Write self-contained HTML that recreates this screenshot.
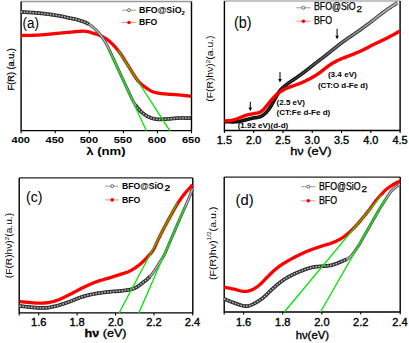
<!DOCTYPE html>
<html><head><meta charset="utf-8"><style>
html,body{margin:0;padding:0;background:#fff;width:409px;height:343px;overflow:hidden}
svg{display:block}
text{font-family:"Liberation Sans", sans-serif;fill:#000}
.m{stroke:#000;stroke-width:0.35px}
.h{stroke:#000;stroke-width:0.25px}
</style></head><body>
<svg width="409" height="343" viewBox="0 0 409 343">
<defs>
<linearGradient id="gbo" gradientUnits="userSpaceOnUse" x1="224" y1="0" x2="400" y2="0"><stop offset="0" stop-color="#000"/><stop offset="0.45" stop-color="#111"/><stop offset="1" stop-color="#555"/></linearGradient>
<linearGradient id="gbi" gradientUnits="userSpaceOnUse" x1="224" y1="0" x2="400" y2="0"><stop offset="0" stop-color="#111"/><stop offset="0.4" stop-color="#333"/><stop offset="0.7" stop-color="#888"/><stop offset="1" stop-color="#c8c8c8"/></linearGradient>
<linearGradient id="gco" gradientUnits="userSpaceOnUse" x1="140" y1="0" x2="192" y2="0"><stop offset="0" stop-color="#222"/><stop offset="1" stop-color="#555"/></linearGradient>
<linearGradient id="gci" gradientUnits="userSpaceOnUse" x1="140" y1="0" x2="192" y2="0"><stop offset="0" stop-color="#b0b0b0"/><stop offset="1" stop-color="#e8e8e8"/></linearGradient>
<linearGradient id="gdo" gradientUnits="userSpaceOnUse" x1="340" y1="0" x2="400" y2="0"><stop offset="0" stop-color="#222"/><stop offset="1" stop-color="#555"/></linearGradient>
<linearGradient id="gdi" gradientUnits="userSpaceOnUse" x1="340" y1="0" x2="400" y2="0"><stop offset="0" stop-color="#b0b0b0"/><stop offset="1" stop-color="#e8e8e8"/></linearGradient>
</defs>
<rect width="409" height="343" fill="#fff"/>
<path d="M21.10,1.50 H191.50" fill="none" stroke="#999" stroke-width="1.4"/>
<path d="M21.10,1.50 V130.60 H191.50 V1.50" fill="none" stroke="#000" stroke-width="1.4" stroke-linejoin="round"/>
<path d="M21.10,130.60 V133.20 M191.50,130.60 V133.20" stroke="#000" stroke-width="1.1"/>
<path d="M55.20,130.60 V133.20" stroke="#000" stroke-width="1.1"/>
<path d="M89.30,130.60 V133.20" stroke="#000" stroke-width="1.1"/>
<path d="M123.40,130.60 V133.20" stroke="#000" stroke-width="1.1"/>
<path d="M157.40,130.60 V133.20" stroke="#000" stroke-width="1.1"/>
<path d="M21.00,35.50 L22.00,35.48 L23.00,35.46 L24.00,35.45 L25.00,35.43 L26.00,35.41 L27.00,35.40 L28.00,35.38 L29.00,35.36 L30.00,35.34 L31.00,35.32 L32.00,35.29 L33.00,35.27 L34.00,35.24 L35.00,35.20 L36.00,35.17 L37.00,35.13 L37.99,35.08 L38.99,35.03 L39.99,34.97 L40.99,34.90 L41.99,34.83 L42.98,34.75 L43.98,34.67 L44.98,34.58 L45.97,34.49 L46.97,34.40 L47.96,34.31 L48.96,34.21 L49.95,34.11 L50.95,34.01 L51.94,33.91 L52.94,33.81 L53.93,33.71 L54.93,33.60 L55.92,33.50 L56.92,33.40 L57.91,33.31 L58.91,33.21 L59.90,33.12 L60.90,33.03 L61.90,32.93 L62.89,32.84 L63.89,32.75 L64.88,32.66 L65.88,32.57 L66.88,32.48 L67.87,32.39 L68.87,32.30 L69.86,32.21 L70.86,32.12 L71.86,32.03 L72.85,31.93 L73.85,31.84 L74.84,31.74 L75.84,31.65 L76.83,31.56 L77.83,31.47 L78.83,31.39 L79.82,31.32 L80.82,31.26 L81.82,31.22 L82.82,31.21 L83.82,31.22 L84.81,31.28 L85.81,31.38 L86.79,31.52 L87.77,31.70 L88.75,31.93 L89.71,32.18 L90.67,32.47 L91.63,32.76 L92.58,33.06 L93.54,33.35 L94.50,33.63 L95.46,33.91 L96.42,34.19 L97.37,34.49 L98.32,34.81 L99.25,35.16 L100.18,35.54 L101.09,35.95 L101.99,36.38 L102.88,36.83 L103.76,37.31 L104.62,37.81 L105.47,38.34 L106.30,38.90 L107.11,39.48 L107.91,40.08 L108.69,40.71 L109.45,41.35 L110.20,42.01 L110.95,42.68 L111.68,43.36 L112.39,44.06 L113.10,44.77 L113.79,45.49 L114.46,46.23 L115.13,46.97 L115.79,47.73 L116.43,48.49 L117.07,49.26 L117.70,50.03 L118.32,50.82 L118.94,51.61 L119.54,52.40 L120.14,53.21 L120.72,54.02 L121.29,54.84 L121.85,55.67 L122.39,56.51 L122.93,57.35 L123.45,58.20 L123.98,59.05 L124.50,59.90 L125.03,60.76 L125.56,61.60 L126.09,62.45 L126.62,63.30 L127.16,64.14 L127.70,64.99 L128.23,65.83 L128.77,66.67 L129.30,67.52 L129.84,68.36 L130.37,69.21 L130.89,70.06 L131.41,70.92 L131.93,71.77 L132.45,72.63 L132.98,73.48 L133.51,74.32 L134.04,75.17 L134.58,76.01 L135.12,76.85 L135.67,77.69 L136.23,78.51 L136.81,79.33 L137.41,80.12 L138.04,80.90 L138.70,81.65 L139.39,82.37 L140.11,83.06 L140.85,83.74 L141.61,84.39 L142.38,85.02 L143.17,85.64 L143.96,86.25 L144.76,86.85 L145.57,87.44 L146.38,88.02 L147.21,88.58 L148.04,89.14 L148.88,89.68 L149.74,90.19 L150.61,90.68 L151.50,91.13 L152.41,91.54 L153.33,91.91 L154.28,92.22 L155.24,92.50 L156.21,92.73 L157.19,92.93 L158.17,93.11 L159.16,93.28 L160.15,93.43 L161.14,93.56 L162.13,93.68 L163.12,93.79 L164.12,93.88 L165.11,93.97 L166.11,94.06 L167.11,94.14 L168.10,94.22 L169.10,94.29 L170.10,94.35 L171.10,94.40 L172.10,94.46 L173.10,94.51 L174.09,94.57 L175.09,94.63 L176.09,94.69 L177.09,94.77 L178.08,94.85 L179.08,94.93 L180.08,95.02 L181.07,95.12 L182.07,95.21 L183.06,95.31 L184.06,95.42 L185.05,95.53 L186.04,95.64 L187.04,95.76 L188.03,95.89 L189.02,96.03 L190.01,96.16 L191.00,96.30" fill="none" stroke="#ff0000" stroke-width="3.30" stroke-linejoin="round"/>
<path d="M21.00,12.00 L22.00,12.05 L23.00,12.11 L24.00,12.16 L25.00,12.21 L26.00,12.26 L27.01,12.32 L28.01,12.37 L29.01,12.42 L30.01,12.48 L31.01,12.54 L32.01,12.60 L33.01,12.66 L34.01,12.72 L35.01,12.79 L36.01,12.87 L37.01,12.94 L38.01,13.03 L39.00,13.11 L40.00,13.21 L41.00,13.31 L42.00,13.42 L42.99,13.53 L43.99,13.65 L44.98,13.77 L45.98,13.89 L46.97,14.02 L47.96,14.15 L48.96,14.28 L49.95,14.42 L50.94,14.56 L51.93,14.70 L52.93,14.85 L53.92,15.00 L54.91,15.15 L55.90,15.30 L56.89,15.46 L57.88,15.62 L58.87,15.79 L59.85,15.96 L60.84,16.14 L61.82,16.33 L62.80,16.54 L63.78,16.75 L64.76,16.97 L65.74,17.20 L66.71,17.43 L67.69,17.66 L68.66,17.89 L69.64,18.10 L70.62,18.31 L71.61,18.50 L72.59,18.68 L73.58,18.86 L74.56,19.06 L75.54,19.27 L76.51,19.51 L77.48,19.77 L78.44,20.05 L79.40,20.34 L80.35,20.65 L81.30,20.97 L82.25,21.29 L83.20,21.62 L84.14,21.96 L85.07,22.32 L85.99,22.72 L86.90,23.14 L87.78,23.61 L88.64,24.12 L89.49,24.65 L90.32,25.22 L91.13,25.80 L91.92,26.41 L92.71,27.03 L93.48,27.67 L94.24,28.33 L94.99,28.99 L95.72,29.67 L96.44,30.37 L97.15,31.08 L97.84,31.80 L98.51,32.55 L99.17,33.30 L99.80,34.08 L100.43,34.86 L101.03,35.66 L101.63,36.46 L102.21,37.28 L102.78,38.10 L103.35,38.93 L103.89,39.77 L104.43,40.62 L104.96,41.47 L105.46,42.33 L105.96,43.21 L106.43,44.09 L106.89,44.98 L107.34,45.87 L107.79,46.77 L108.22,47.67 L108.66,48.58 L109.09,49.48 L109.52,50.39 L109.95,51.29 L110.38,52.20 L110.80,53.11 L111.22,54.02 L111.63,54.93 L112.05,55.84 L112.46,56.75 L112.88,57.67 L113.30,58.58 L113.72,59.49 L114.14,60.40 L114.56,61.31 L114.98,62.22 L115.40,63.13 L115.82,64.03 L116.24,64.94 L116.66,65.85 L117.08,66.76 L117.50,67.67 L117.92,68.58 L118.35,69.49 L118.77,70.40 L119.19,71.31 L119.61,72.22 L120.03,73.13 L120.45,74.04 L120.87,74.95 L121.29,75.86 L121.71,76.77 L122.13,77.68 L122.55,78.59 L122.97,79.50 L123.39,80.41 L123.81,81.32 L124.23,82.23 L124.64,83.14 L125.06,84.05 L125.48,84.96 L125.90,85.88 L126.32,86.79 L126.74,87.69 L127.16,88.60 L127.59,89.51 L128.01,90.42 L128.44,91.33 L128.86,92.24 L129.28,93.15 L129.69,94.06 L130.11,94.97 L130.54,95.88 L130.96,96.78 L131.40,97.69 L131.83,98.59 L132.28,99.49 L132.74,100.38 L133.21,101.26 L133.71,102.13 L134.22,102.99 L134.74,103.85 L135.29,104.68 L135.86,105.51 L136.44,106.32 L137.05,107.12 L137.67,107.90 L138.31,108.67 L138.97,109.43 L139.64,110.17 L140.34,110.89 L141.05,111.60 L141.78,112.28 L142.54,112.94 L143.31,113.57 L144.11,114.17 L144.94,114.74 L145.78,115.28 L146.64,115.79 L147.52,116.27 L148.41,116.73 L149.31,117.15 L150.23,117.55 L151.16,117.92 L152.11,118.25 L153.07,118.53 L154.04,118.77 L155.02,118.97 L156.00,119.13 L157.00,119.26 L157.99,119.35 L158.99,119.40 L159.99,119.40 L160.99,119.36 L161.99,119.31 L162.99,119.25 L163.99,119.19 L164.99,119.13 L165.99,119.06 L166.99,119.00 L167.99,118.93 L168.99,118.85 L169.99,118.78 L170.99,118.69 L171.99,118.60 L172.98,118.51 L173.98,118.41 L174.98,118.32 L175.98,118.23 L176.98,118.15 L177.98,118.09 L178.98,118.04 L179.98,118.01 L180.98,117.99 L181.98,117.99 L182.98,118.00 L183.99,118.01 L184.99,118.03 L185.99,118.06 L186.99,118.08 L187.99,118.11 L189.00,118.14 L190.00,118.17 L191.00,118.20" fill="none" stroke="#555" stroke-width="3.0"/>
<path d="M21.00,12.00 L22.00,12.05 L23.00,12.11 L24.00,12.16 L25.00,12.21 L26.00,12.26 L27.01,12.32 L28.01,12.37 L29.01,12.42 L30.01,12.48 L31.01,12.54 L32.01,12.60 L33.01,12.66 L34.01,12.72 L35.01,12.79 L36.01,12.87 L37.01,12.94 L38.01,13.03 L39.00,13.11 L40.00,13.21 L41.00,13.31 L42.00,13.42 L42.99,13.53 L43.99,13.65 L44.98,13.77 L45.98,13.89 L46.97,14.02 L47.96,14.15 L48.96,14.28 L49.95,14.42 L50.94,14.56 L51.93,14.70 L52.93,14.85 L53.92,15.00 L54.91,15.15 L55.90,15.30 L56.89,15.46 L57.88,15.62 L58.87,15.79 L59.85,15.96 L60.84,16.14 L61.82,16.33 L62.80,16.54 L63.78,16.75 L64.76,16.97 L65.74,17.20 L66.71,17.43 L67.69,17.66 L68.66,17.89 L69.64,18.10 L70.62,18.31 L71.61,18.50 L72.59,18.68 L73.58,18.86 L74.56,19.06 L75.54,19.27 L76.51,19.51 L77.48,19.77 L78.44,20.05 L79.40,20.34 L80.35,20.65 L81.30,20.97 L82.25,21.29 L83.20,21.62 L84.14,21.96 L85.07,22.32 L85.99,22.72 L86.90,23.14 L87.78,23.61 L88.64,24.12 L89.49,24.65 L90.32,25.22 L91.13,25.80 L91.92,26.41 L92.71,27.03 L93.48,27.67 L94.24,28.33 L94.99,28.99 L95.72,29.67 L96.44,30.37 L97.15,31.08 L97.84,31.80 L98.51,32.55 L99.17,33.30 L99.80,34.08 L100.43,34.86 L101.03,35.66 L101.63,36.46 L102.21,37.28 L102.78,38.10 L103.35,38.93 L103.89,39.77 L104.43,40.62 L104.96,41.47 L105.46,42.33 L105.96,43.21 L106.43,44.09 L106.89,44.98 L107.34,45.87 L107.79,46.77 L108.22,47.67 L108.66,48.58 L109.09,49.48 L109.52,50.39 L109.95,51.29 L110.38,52.20 L110.80,53.11 L111.22,54.02 L111.63,54.93 L112.05,55.84 L112.46,56.75 L112.88,57.67 L113.30,58.58 L113.72,59.49 L114.14,60.40 L114.56,61.31 L114.98,62.22 L115.40,63.13 L115.82,64.03 L116.24,64.94 L116.66,65.85 L117.08,66.76 L117.50,67.67 L117.92,68.58 L118.35,69.49 L118.77,70.40 L119.19,71.31 L119.61,72.22 L120.03,73.13 L120.45,74.04 L120.87,74.95 L121.29,75.86 L121.71,76.77 L122.13,77.68 L122.55,78.59 L122.97,79.50 L123.39,80.41 L123.81,81.32 L124.23,82.23 L124.64,83.14 L125.06,84.05 L125.48,84.96 L125.90,85.88 L126.32,86.79 L126.74,87.69 L127.16,88.60 L127.59,89.51 L128.01,90.42 L128.44,91.33 L128.86,92.24 L129.28,93.15 L129.69,94.06 L130.11,94.97 L130.54,95.88 L130.96,96.78 L131.40,97.69 L131.83,98.59 L132.28,99.49 L132.74,100.38 L133.21,101.26 L133.71,102.13 L134.22,102.99 L134.74,103.85 L135.29,104.68 L135.86,105.51 L136.44,106.32 L137.05,107.12 L137.67,107.90 L138.31,108.67 L138.97,109.43 L139.64,110.17 L140.34,110.89 L141.05,111.60 L141.78,112.28 L142.54,112.94 L143.31,113.57 L144.11,114.17 L144.94,114.74 L145.78,115.28 L146.64,115.79 L147.52,116.27 L148.41,116.73 L149.31,117.15 L150.23,117.55 L151.16,117.92 L152.11,118.25 L153.07,118.53 L154.04,118.77 L155.02,118.97 L156.00,119.13 L157.00,119.26 L157.99,119.35 L158.99,119.40 L159.99,119.40 L160.99,119.36 L161.99,119.31 L162.99,119.25 L163.99,119.19 L164.99,119.13 L165.99,119.06 L166.99,119.00 L167.99,118.93 L168.99,118.85 L169.99,118.78 L170.99,118.69 L171.99,118.60 L172.98,118.51 L173.98,118.41 L174.98,118.32 L175.98,118.23 L176.98,118.15 L177.98,118.09 L178.98,118.04 L179.98,118.01 L180.98,117.99 L181.98,117.99 L182.98,118.00 L183.99,118.01 L184.99,118.03 L185.99,118.06 L186.99,118.08 L187.99,118.11 L189.00,118.14 L190.00,118.17 L191.00,118.20" fill="none" stroke="#c4c4c4" stroke-width="1.1"/>
<path d="M21.00,12.00 L22.00,12.05 L23.00,12.11 L24.00,12.16 L25.00,12.21 L26.00,12.26 L27.01,12.32 L28.01,12.37 L29.01,12.42 L30.01,12.48 L31.01,12.54 L32.01,12.60 L33.01,12.66 L34.01,12.72 L35.01,12.79 L36.01,12.87 L37.01,12.94 L38.01,13.03 L39.00,13.11 L40.00,13.21 L41.00,13.31 L42.00,13.42 L42.99,13.53 L43.99,13.65 L44.98,13.77 L45.98,13.89 L46.97,14.02 L47.96,14.15 L48.96,14.28 L49.95,14.42 L50.94,14.56 L51.93,14.70 L52.93,14.85 L53.92,15.00 L54.91,15.15 L55.90,15.30 L56.89,15.46 L57.88,15.62 L58.87,15.79 L59.85,15.96 L60.84,16.14 L61.82,16.33 L62.80,16.54 L63.78,16.75 L64.76,16.97 L65.74,17.20 L66.71,17.43 L67.69,17.66 L68.66,17.89 L69.64,18.10 L70.62,18.31 L71.61,18.50 L72.59,18.68 L73.58,18.86 L74.56,19.06 L75.54,19.27 L76.51,19.51 L77.48,19.77 L78.44,20.05 L79.40,20.34 L80.35,20.65 L81.30,20.97 L82.25,21.29 L83.20,21.62 L84.14,21.96 L85.07,22.32 L85.99,22.72 L86.90,23.14 L87.78,23.61 L88.64,24.12 M135.29,104.68 L135.86,105.51 L136.44,106.32 L137.05,107.12 L137.67,107.90 L138.31,108.67 L138.97,109.43 L139.64,110.17 L140.34,110.89 L141.05,111.60 L141.78,112.28 L142.54,112.94 L143.31,113.57 L144.11,114.17 L144.94,114.74 L145.78,115.28 L146.64,115.79 L147.52,116.27 L148.41,116.73 L149.31,117.15 L150.23,117.55 L151.16,117.92 L152.11,118.25 L153.07,118.53 L154.04,118.77 L155.02,118.97 L156.00,119.13 L157.00,119.26 L157.99,119.35 L158.99,119.40 L159.99,119.40 L160.99,119.36 L161.99,119.31 L162.99,119.25 L163.99,119.19 L164.99,119.13 L165.99,119.06 L166.99,119.00 L167.99,118.93 L168.99,118.85 L169.99,118.78 L170.99,118.69 L171.99,118.60 L172.98,118.51 L173.98,118.41 L174.98,118.32 L175.98,118.23 L176.98,118.15 L177.98,118.09 L178.98,118.04 L179.98,118.01 L180.98,117.99 L181.98,117.99 L182.98,118.00 L183.99,118.01 L184.99,118.03 L185.99,118.06 L186.99,118.08 L187.99,118.11 L189.00,118.14 L190.00,118.17 L191.00,118.20" fill="none" stroke="#333" stroke-width="3.70"/>
<path d="M21.00,12.00 L22.00,12.05 L23.00,12.11 L24.00,12.16 L25.00,12.21 L26.00,12.26 L27.01,12.32 L28.01,12.37 L29.01,12.42 L30.01,12.48 L31.01,12.54 L32.01,12.60 L33.01,12.66 L34.01,12.72 L35.01,12.79 L36.01,12.87 L37.01,12.94 L38.01,13.03 L39.00,13.11 L40.00,13.21 L41.00,13.31 L42.00,13.42 L42.99,13.53 L43.99,13.65 L44.98,13.77 L45.98,13.89 L46.97,14.02 L47.96,14.15 L48.96,14.28 L49.95,14.42 L50.94,14.56 L51.93,14.70 L52.93,14.85 L53.92,15.00 L54.91,15.15 L55.90,15.30 L56.89,15.46 L57.88,15.62 L58.87,15.79 L59.85,15.96 L60.84,16.14 L61.82,16.33 L62.80,16.54 L63.78,16.75 L64.76,16.97 L65.74,17.20 L66.71,17.43 L67.69,17.66 L68.66,17.89 L69.64,18.10 L70.62,18.31 L71.61,18.50 L72.59,18.68 L73.58,18.86 L74.56,19.06 L75.54,19.27 L76.51,19.51 L77.48,19.77 L78.44,20.05 L79.40,20.34 L80.35,20.65 L81.30,20.97 L82.25,21.29 L83.20,21.62 L84.14,21.96 L85.07,22.32 L85.99,22.72 L86.90,23.14 L87.78,23.61 L88.64,24.12 M135.29,104.68 L135.86,105.51 L136.44,106.32 L137.05,107.12 L137.67,107.90 L138.31,108.67 L138.97,109.43 L139.64,110.17 L140.34,110.89 L141.05,111.60 L141.78,112.28 L142.54,112.94 L143.31,113.57 L144.11,114.17 L144.94,114.74 L145.78,115.28 L146.64,115.79 L147.52,116.27 L148.41,116.73 L149.31,117.15 L150.23,117.55 L151.16,117.92 L152.11,118.25 L153.07,118.53 L154.04,118.77 L155.02,118.97 L156.00,119.13 L157.00,119.26 L157.99,119.35 L158.99,119.40 L159.99,119.40 L160.99,119.36 L161.99,119.31 L162.99,119.25 L163.99,119.19 L164.99,119.13 L165.99,119.06 L166.99,119.00 L167.99,118.93 L168.99,118.85 L169.99,118.78 L170.99,118.69 L171.99,118.60 L172.98,118.51 L173.98,118.41 L174.98,118.32 L175.98,118.23 L176.98,118.15 L177.98,118.09 L178.98,118.04 L179.98,118.01 L180.98,117.99 L181.98,117.99 L182.98,118.00 L183.99,118.01 L184.99,118.03 L185.99,118.06 L186.99,118.08 L187.99,118.11 L189.00,118.14 L190.00,118.17 L191.00,118.20" fill="none" stroke="#bdbdbd" stroke-width="1.50" stroke-dasharray="1.5 1.4"/>
<path d="M109.00,50.00 L146.40,130.80" stroke="#00e600" stroke-width="1.3"/>
<path d="M117.90,50.00 L169.90,130.80" stroke="#00e600" stroke-width="1.3"/>
<path d="M122.00,10.20 H136.00" stroke="#999" stroke-width="1"/>
<circle cx="129.00" cy="10.20" r="1.5" fill="#fff" stroke="#555" stroke-width="0.9"/>
<path d="M122.00,22.50 H136.00" stroke="#ff7a7a" stroke-width="0.9"/>
<circle cx="129.00" cy="22.50" r="1.8" fill="#ff0000"/>
<text x="139" y="12.8" font-size="9.2" font-weight="bold" textLength="42.6" lengthAdjust="spacingAndGlyphs">BFO@SiO</text>
<text x="181.6" y="14.6" font-size="6" font-weight="bold">2</text>
<text x="139" y="25.4" font-size="9.2" font-weight="bold" textLength="18.2" lengthAdjust="spacingAndGlyphs">BFO</text>
<text x="22.60" y="27.80" font-size="15.50" font-weight="normal" text-anchor="start" textLength="16.40" lengthAdjust="spacingAndGlyphs">(a)</text>
<text x="20.70" y="143.10" font-size="9.90" font-weight="bold" text-anchor="middle" textLength="18.40" lengthAdjust="spacingAndGlyphs">400</text>
<text x="54.78" y="143.10" font-size="9.90" font-weight="bold" text-anchor="middle" textLength="18.40" lengthAdjust="spacingAndGlyphs">450</text>
<text x="88.86" y="143.10" font-size="9.90" font-weight="bold" text-anchor="middle" textLength="18.40" lengthAdjust="spacingAndGlyphs">500</text>
<text x="122.94" y="143.10" font-size="9.90" font-weight="bold" text-anchor="middle" textLength="18.40" lengthAdjust="spacingAndGlyphs">550</text>
<text x="157.02" y="143.10" font-size="9.90" font-weight="bold" text-anchor="middle" textLength="18.40" lengthAdjust="spacingAndGlyphs">600</text>
<text x="191.10" y="143.10" font-size="9.90" font-weight="bold" text-anchor="middle" textLength="18.40" lengthAdjust="spacingAndGlyphs">650</text>
<text x="86.30" y="154.90" font-size="11.70" font-weight="bold" text-anchor="start" textLength="39.30" lengthAdjust="spacingAndGlyphs">&#955; (nm)</text>
<text class="h" x="0" y="0" transform="translate(13.90,90.40) rotate(-90)" font-size="9.20" font-weight="normal" textLength="42.30" lengthAdjust="spacingAndGlyphs">F(R) (a.u.)</text>
<path d="M224.40,1.00 H400.10" fill="none" stroke="#b0b0b0" stroke-width="1.4"/>
<path d="M224.40,1.00 V130.50 H400.10 V1.00" fill="none" stroke="#000" stroke-width="1.4" stroke-linejoin="round"/>
<path d="M224.40,130.50 V133.10 M400.10,130.50 V133.10" stroke="#000" stroke-width="1.1"/>
<path d="M253.68,130.50 V133.10" stroke="#000" stroke-width="1.1"/>
<path d="M282.96,130.50 V133.10" stroke="#000" stroke-width="1.1"/>
<path d="M312.24,130.50 V133.10" stroke="#000" stroke-width="1.1"/>
<path d="M341.52,130.50 V133.10" stroke="#000" stroke-width="1.1"/>
<path d="M370.80,130.50 V133.10" stroke="#000" stroke-width="1.1"/>
<path d="M224.50,121.60 L225.50,121.63 L226.50,121.67 L227.50,121.70 L228.51,121.74 L229.51,121.78 L230.51,121.81 L231.51,121.83 L232.51,121.83 L233.52,121.83 L234.52,121.81 L235.52,121.77 L236.52,121.70 L237.52,121.61 L238.51,121.49 L239.50,121.34 L240.48,121.16 L241.46,120.95 L242.44,120.73 L243.41,120.49 L244.38,120.24 L245.35,119.98 L246.32,119.71 L247.28,119.45 L248.25,119.18 L249.22,118.92 L250.19,118.66 L251.16,118.43 L252.14,118.21 L253.12,118.02 L254.11,117.87 L255.10,117.74 L256.10,117.62 L257.09,117.49 L258.08,117.32 L259.05,117.10 L259.99,116.80 L260.91,116.42 L261.79,115.96 L262.64,115.44 L263.45,114.85 L264.22,114.22 L264.97,113.56 L265.69,112.87 L266.39,112.15 L267.06,111.41 L267.72,110.65 L268.35,109.87 L268.95,109.08 L269.53,108.26 L270.08,107.42 L270.62,106.57 L271.13,105.71 L271.63,104.85 L272.12,103.97 L272.61,103.10 L273.11,102.23 L273.60,101.36 L274.10,100.49 L274.59,99.61 L275.08,98.74 L275.56,97.86 L276.03,96.97 L276.50,96.09 L276.98,95.21 L277.47,94.33 L277.98,93.47 L278.51,92.62 L279.08,91.80 L279.68,91.00 L280.31,90.22 L280.98,89.48 L281.68,88.76 L282.40,88.07 L283.14,87.40 L283.90,86.75 L284.68,86.11 L285.46,85.49 L286.25,84.87 L287.05,84.26 L287.84,83.66 L288.64,83.05 L289.45,82.46 L290.26,81.87 L291.08,81.29 L291.91,80.73 L292.74,80.17 L293.58,79.62 L294.42,79.07 L295.25,78.52 L296.09,77.96 L296.91,77.39 L297.74,76.82 L298.56,76.24 L299.37,75.66 L300.18,75.07 L300.99,74.48 L301.80,73.89 L302.61,73.30 L303.41,72.70 L304.22,72.10 L305.02,71.49 L305.81,70.89 L306.61,70.28 L307.40,69.66 L308.19,69.04 L308.97,68.42 L309.75,67.79 L310.54,67.16 L311.32,66.53 L312.10,65.91 L312.88,65.28 L313.66,64.66 L314.45,64.04 L315.24,63.42 L316.04,62.81 L316.83,62.20 L317.63,61.59 L318.43,60.99 L319.23,60.39 L320.03,59.79 L320.83,59.18 L321.63,58.58 L322.43,57.97 L323.23,57.36 L324.02,56.75 L324.81,56.13 L325.60,55.51 L326.38,54.89 L327.17,54.26 L327.95,53.64 L328.73,53.01 L329.52,52.39 L330.30,51.76 L331.08,51.13 L331.86,50.51 L332.65,49.88 L333.43,49.25 L334.21,48.63 L334.99,48.00 L335.77,47.37 L336.55,46.74 L337.33,46.11 L338.11,45.48 L338.90,44.86 L339.69,44.25 L340.49,43.64 L341.29,43.04 L342.09,42.44 L342.90,41.85 L343.71,41.26 L344.53,40.68 L345.35,40.10 L346.17,39.53 L346.99,38.96 L347.82,38.39 L348.65,37.82 L349.48,37.26 L350.31,36.70 L351.14,36.14 L351.97,35.57 L352.80,35.01 L353.62,34.45 L354.45,33.88 L355.27,33.31 L356.09,32.73 L356.91,32.15 L357.73,31.58 L358.55,31.00 L359.37,30.42 L360.18,29.83 L361.00,29.25 L361.81,28.66 L362.62,28.08 L363.44,27.49 L364.25,26.90 L365.06,26.31 L365.87,25.72 L366.68,25.13 L367.49,24.54 L368.30,23.95 L369.10,23.35 L369.91,22.75 L370.71,22.15 L371.51,21.55 L372.30,20.94 L373.10,20.33 L373.88,19.71 L374.67,19.08 L375.45,18.45 L376.22,17.82 L377.00,17.19 L377.78,16.56 L378.57,15.93 L379.35,15.31 L380.15,14.70 L380.94,14.09 L381.75,13.49 L382.55,12.89 L383.36,12.30 L384.17,11.71 L384.98,11.12 L385.80,10.54 L386.62,9.97 L387.44,9.39 L388.27,8.83 L389.10,8.27 L389.93,7.71 L390.77,7.16 L391.61,6.61 L392.45,6.06 L393.29,5.52 L394.13,4.97 L394.97,4.43 L395.82,3.89 L396.66,3.34 L397.50,2.80" fill="none" stroke="url(#gbo)" stroke-width="3.6"/>
<path d="M224.50,121.60 L225.50,121.63 L226.50,121.67 L227.50,121.70 L228.51,121.74 L229.51,121.78 L230.51,121.81 L231.51,121.83 L232.51,121.83 L233.52,121.83 L234.52,121.81 L235.52,121.77 L236.52,121.70 L237.52,121.61 L238.51,121.49 L239.50,121.34 L240.48,121.16 L241.46,120.95 L242.44,120.73 L243.41,120.49 L244.38,120.24 L245.35,119.98 L246.32,119.71 L247.28,119.45 L248.25,119.18 L249.22,118.92 L250.19,118.66 L251.16,118.43 L252.14,118.21 L253.12,118.02 L254.11,117.87 L255.10,117.74 L256.10,117.62 L257.09,117.49 L258.08,117.32 L259.05,117.10 L259.99,116.80 L260.91,116.42 L261.79,115.96 L262.64,115.44 L263.45,114.85 L264.22,114.22 L264.97,113.56 L265.69,112.87 L266.39,112.15 L267.06,111.41 L267.72,110.65 L268.35,109.87 L268.95,109.08 L269.53,108.26 L270.08,107.42 L270.62,106.57 L271.13,105.71 L271.63,104.85 L272.12,103.97 L272.61,103.10 L273.11,102.23 L273.60,101.36 L274.10,100.49 L274.59,99.61 L275.08,98.74 L275.56,97.86 L276.03,96.97 L276.50,96.09 L276.98,95.21 L277.47,94.33 L277.98,93.47 L278.51,92.62 L279.08,91.80 L279.68,91.00 L280.31,90.22 L280.98,89.48 L281.68,88.76 L282.40,88.07 L283.14,87.40 L283.90,86.75 L284.68,86.11 L285.46,85.49 L286.25,84.87 L287.05,84.26 L287.84,83.66 L288.64,83.05 L289.45,82.46 L290.26,81.87 L291.08,81.29 L291.91,80.73 L292.74,80.17 L293.58,79.62 L294.42,79.07 L295.25,78.52 L296.09,77.96 L296.91,77.39 L297.74,76.82 L298.56,76.24 L299.37,75.66 L300.18,75.07 L300.99,74.48 L301.80,73.89 L302.61,73.30 L303.41,72.70 L304.22,72.10 L305.02,71.49 L305.81,70.89 L306.61,70.28 L307.40,69.66 L308.19,69.04 L308.97,68.42 L309.75,67.79 L310.54,67.16 L311.32,66.53 L312.10,65.91 L312.88,65.28 L313.66,64.66 L314.45,64.04 L315.24,63.42 L316.04,62.81 L316.83,62.20 L317.63,61.59 L318.43,60.99 L319.23,60.39 L320.03,59.79 L320.83,59.18 L321.63,58.58 L322.43,57.97 L323.23,57.36 L324.02,56.75 L324.81,56.13 L325.60,55.51 L326.38,54.89 L327.17,54.26 L327.95,53.64 L328.73,53.01 L329.52,52.39 L330.30,51.76 L331.08,51.13 L331.86,50.51 L332.65,49.88 L333.43,49.25 L334.21,48.63 L334.99,48.00 L335.77,47.37 L336.55,46.74 L337.33,46.11 L338.11,45.48 L338.90,44.86 L339.69,44.25 L340.49,43.64 L341.29,43.04 L342.09,42.44 L342.90,41.85 L343.71,41.26 L344.53,40.68 L345.35,40.10 L346.17,39.53 L346.99,38.96 L347.82,38.39 L348.65,37.82 L349.48,37.26 L350.31,36.70 L351.14,36.14 L351.97,35.57 L352.80,35.01 L353.62,34.45 L354.45,33.88 L355.27,33.31 L356.09,32.73 L356.91,32.15 L357.73,31.58 L358.55,31.00 L359.37,30.42 L360.18,29.83 L361.00,29.25 L361.81,28.66 L362.62,28.08 L363.44,27.49 L364.25,26.90 L365.06,26.31 L365.87,25.72 L366.68,25.13 L367.49,24.54 L368.30,23.95 L369.10,23.35 L369.91,22.75 L370.71,22.15 L371.51,21.55 L372.30,20.94 L373.10,20.33 L373.88,19.71 L374.67,19.08 L375.45,18.45 L376.22,17.82 L377.00,17.19 L377.78,16.56 L378.57,15.93 L379.35,15.31 L380.15,14.70 L380.94,14.09 L381.75,13.49 L382.55,12.89 L383.36,12.30 L384.17,11.71 L384.98,11.12 L385.80,10.54 L386.62,9.97 L387.44,9.39 L388.27,8.83 L389.10,8.27 L389.93,7.71 L390.77,7.16 L391.61,6.61 L392.45,6.06 L393.29,5.52 L394.13,4.97 L394.97,4.43 L395.82,3.89 L396.66,3.34 L397.50,2.80" fill="none" stroke="url(#gbi)" stroke-width="1.5"/>
<path d="M224.50,121.00 L225.50,120.94 L226.50,120.88 L227.50,120.82 L228.50,120.73 L229.50,120.63 L230.49,120.49 L231.48,120.32 L232.46,120.11 L233.43,119.86 L234.39,119.59 L235.35,119.31 L236.31,119.00 L237.26,118.68 L238.21,118.35 L239.15,118.01 L240.08,117.65 L241.01,117.28 L241.94,116.89 L242.87,116.51 L243.80,116.13 L244.73,115.78 L245.68,115.45 L246.64,115.16 L247.61,114.90 L248.58,114.67 L249.56,114.46 L250.54,114.26 L251.53,114.06 L252.51,113.87 L253.50,113.68 L254.48,113.51 L255.47,113.35 L256.46,113.19 L257.45,113.01 L258.42,112.78 L259.36,112.47 L260.26,112.07 L261.12,111.58 L261.92,110.99 L262.67,110.34 L263.37,109.63 L264.05,108.89 L264.70,108.13 L265.35,107.36 L265.99,106.60 L266.64,105.83 L267.28,105.06 L267.92,104.29 L268.55,103.50 L269.17,102.72 L269.80,101.93 L270.43,101.15 L271.06,100.38 L271.71,99.61 L272.38,98.86 L273.06,98.13 L273.75,97.40 L274.46,96.69 L275.17,95.99 L275.90,95.30 L276.65,94.63 L277.40,93.98 L278.18,93.34 L278.97,92.72 L279.77,92.13 L280.60,91.56 L281.44,91.01 L282.29,90.49 L283.16,89.99 L284.05,89.52 L284.94,89.07 L285.85,88.65 L286.77,88.26 L287.70,87.88 L288.64,87.52 L289.58,87.17 L290.52,86.81 L291.46,86.47 L292.40,86.13 L293.35,85.80 L294.29,85.46 L295.24,85.13 L296.18,84.78 L297.12,84.43 L298.06,84.08 L298.99,83.72 L299.93,83.35 L300.86,82.97 L301.79,82.59 L302.71,82.20 L303.63,81.80 L304.54,81.39 L305.45,80.97 L306.35,80.53 L307.25,80.08 L308.14,79.62 L309.03,79.15 L309.91,78.67 L310.79,78.19 L311.66,77.69 L312.53,77.19 L313.39,76.68 L314.26,76.17 L315.12,75.66 L315.97,75.13 L316.82,74.60 L317.66,74.06 L318.50,73.51 L319.33,72.94 L320.15,72.36 L320.96,71.77 L321.76,71.16 L322.55,70.55 L323.33,69.92 L324.11,69.29 L324.89,68.66 L325.67,68.03 L326.46,67.41 L327.25,66.80 L328.06,66.20 L328.87,65.62 L329.70,65.05 L330.53,64.50 L331.38,63.96 L332.23,63.43 L333.09,62.91 L333.96,62.41 L334.83,61.92 L335.71,61.44 L336.60,60.98 L337.50,60.53 L338.40,60.09 L339.32,59.68 L340.23,59.28 L341.16,58.89 L342.09,58.52 L343.03,58.15 L343.96,57.79 L344.90,57.43 L345.83,57.07 L346.77,56.70 L347.70,56.34 L348.64,55.98 L349.57,55.62 L350.51,55.26 L351.45,54.90 L352.38,54.54 L353.32,54.17 L354.25,53.80 L355.17,53.42 L356.10,53.03 L357.02,52.64 L357.95,52.25 L358.86,51.85 L359.78,51.44 L360.70,51.03 L361.61,50.62 L362.52,50.19 L363.43,49.76 L364.33,49.32 L365.22,48.87 L366.11,48.41 L367.00,47.94 L367.88,47.47 L368.76,46.99 L369.65,46.51 L370.53,46.04 L371.42,45.57 L372.31,45.11 L373.21,44.67 L374.11,44.23 L375.02,43.81 L375.93,43.39 L376.84,42.97 L377.75,42.55 L378.66,42.13 L379.57,41.70 L380.47,41.27 L381.38,40.83 L382.28,40.39 L383.18,39.95 L384.08,39.50 L384.98,39.06 L385.87,38.61 L386.77,38.16 L387.66,37.70 L388.56,37.24 L389.45,36.78 L390.33,36.32 L391.22,35.85 L392.10,35.37 L392.98,34.89 L393.86,34.41 L394.74,33.93 L395.62,33.44 L396.50,32.95 L397.37,32.46 L398.25,31.98 L399.12,31.49 L400.00,31.00" fill="none" stroke="#ff0000" stroke-width="3.40" stroke-linejoin="round"/>
<path d="M250.30,101.80 V109.50" stroke="#000" stroke-width="1"/>
<path d="M248.50,107.50 L252.10,107.50 L250.30,111.00 Z" fill="#000"/>
<path d="M280.00,72.00 V81.10" stroke="#000" stroke-width="1"/>
<path d="M278.20,79.10 L281.80,79.10 L280.00,82.60 Z" fill="#000"/>
<path d="M337.10,28.70 V37.80" stroke="#000" stroke-width="1"/>
<path d="M335.30,35.80 L338.90,35.80 L337.10,39.30 Z" fill="#000"/>
<path d="M296.30,7.80 H310.50" stroke="#999" stroke-width="1"/>
<circle cx="303.40" cy="7.80" r="1.5" fill="#fff" stroke="#555" stroke-width="0.9"/>
<path d="M296.30,21.20 H310.50" stroke="#ff7a7a" stroke-width="0.9"/>
<circle cx="303.40" cy="21.20" r="1.8" fill="#ff0000"/>
<text class="h" x="313.9" y="10.4" font-size="10.2" textLength="41.7" lengthAdjust="spacingAndGlyphs">BFO@SiO</text>
<text class="h" x="356.5" y="12.2" font-size="8.8" textLength="5.5" lengthAdjust="spacingAndGlyphs">2</text>
<text class="h" x="313.9" y="24.1" font-size="10.2" textLength="18.1" lengthAdjust="spacingAndGlyphs">BFO</text>
<text x="234.00" y="27.70" font-size="16.00" font-weight="normal" text-anchor="start" textLength="17.50" lengthAdjust="spacingAndGlyphs">(b)</text>
<text x="224.40" y="143.80" font-size="10.20" font-weight="normal" text-anchor="middle" textLength="15.20" lengthAdjust="spacingAndGlyphs" class="m">1.5</text>
<text x="253.68" y="143.80" font-size="10.20" font-weight="normal" text-anchor="middle" textLength="15.20" lengthAdjust="spacingAndGlyphs" class="m">2.0</text>
<text x="282.96" y="143.80" font-size="10.20" font-weight="normal" text-anchor="middle" textLength="15.20" lengthAdjust="spacingAndGlyphs" class="m">2.5</text>
<text x="312.24" y="143.80" font-size="10.20" font-weight="normal" text-anchor="middle" textLength="15.20" lengthAdjust="spacingAndGlyphs" class="m">3.0</text>
<text x="341.52" y="143.80" font-size="10.20" font-weight="normal" text-anchor="middle" textLength="15.20" lengthAdjust="spacingAndGlyphs" class="m">3.5</text>
<text x="370.80" y="143.80" font-size="10.20" font-weight="normal" text-anchor="middle" textLength="15.20" lengthAdjust="spacingAndGlyphs" class="m">4.0</text>
<text x="400.08" y="143.80" font-size="10.20" font-weight="normal" text-anchor="middle" textLength="15.20" lengthAdjust="spacingAndGlyphs" class="m">4.5</text>
<text x="290.20" y="155.20" font-size="11.40" font-weight="normal" text-anchor="start" textLength="41.40" lengthAdjust="spacingAndGlyphs" class="m">h&#957; (eV)</text>
<text x="0" y="0" transform="translate(213.2,101.8) rotate(-90)" font-size="8.8" textLength="66.3" lengthAdjust="spacingAndGlyphs">(F(R)h&#957;)<tspan font-size="5.5" dy="-3.5">2</tspan><tspan dy="3.5">(a.u.)</tspan></text>
<text x="237.70" y="127.70" font-size="8.00" font-weight="bold" text-anchor="start" textLength="50.50" lengthAdjust="spacingAndGlyphs">(1.92 eV)(d-d)</text>
<text x="276.60" y="105.10" font-size="7.90" font-weight="bold" text-anchor="start" textLength="28.40" lengthAdjust="spacingAndGlyphs">(2.5 eV)</text>
<text x="276.60" y="114.80" font-size="7.90" font-weight="bold" text-anchor="start" textLength="53.70" lengthAdjust="spacingAndGlyphs">(CT:Fe d-Fe d)</text>
<text x="327.90" y="76.60" font-size="8.00" font-weight="bold" text-anchor="start" textLength="28.90" lengthAdjust="spacingAndGlyphs">(3.4 eV)</text>
<text x="317.90" y="87.60" font-size="8.00" font-weight="bold" text-anchor="start" textLength="49.90" lengthAdjust="spacingAndGlyphs">(CT:O d-Fe d)</text>
<path d="M19.20,177.90 H192.80" fill="none" stroke="#222" stroke-width="1.4"/>
<path d="M19.20,177.90 V312.90 H192.80 V177.90" fill="none" stroke="#000" stroke-width="1.4" stroke-linejoin="round"/>
<path d="M19.20,312.90 V315.50 M192.80,312.90 V315.50" stroke="#000" stroke-width="1.1"/>
<path d="M38.70,312.90 V315.50" stroke="#000" stroke-width="1.1"/>
<path d="M77.10,312.90 V315.50" stroke="#000" stroke-width="1.1"/>
<path d="M115.60,312.90 V315.50" stroke="#000" stroke-width="1.1"/>
<path d="M154.00,312.90 V315.50" stroke="#000" stroke-width="1.1"/>
<path d="M19.50,306.00 L20.50,306.10 L21.49,306.21 L22.49,306.31 L23.48,306.42 L24.48,306.53 L25.48,306.64 L26.47,306.75 L27.47,306.86 L28.46,306.96 L29.46,307.07 L30.46,307.17 L31.45,307.27 L32.45,307.37 L33.45,307.46 L34.45,307.55 L35.44,307.63 L36.44,307.71 L37.44,307.79 L38.44,307.85 L39.44,307.90 L40.44,307.94 L41.44,307.97 L42.44,307.98 L43.44,307.96 L44.44,307.93 L45.44,307.87 L46.44,307.80 L47.44,307.69 L48.43,307.57 L49.42,307.42 L50.41,307.24 L51.39,307.05 L52.37,306.85 L53.35,306.64 L54.33,306.42 L55.30,306.19 L56.28,305.96 L57.25,305.71 L58.21,305.45 L59.18,305.18 L60.14,304.90 L61.10,304.60 L62.05,304.30 L63.00,303.99 L63.95,303.67 L64.90,303.35 L65.85,303.03 L66.80,302.70 L67.74,302.37 L68.68,302.03 L69.63,301.69 L70.56,301.34 L71.50,300.97 L72.43,300.60 L73.36,300.23 L74.28,299.84 L75.21,299.46 L76.13,299.08 L77.06,298.70 L77.99,298.33 L78.93,297.97 L79.86,297.62 L80.81,297.28 L81.76,296.97 L82.71,296.66 L83.67,296.37 L84.63,296.10 L85.60,295.83 L86.57,295.58 L87.54,295.34 L88.51,295.10 L89.49,294.88 L90.47,294.66 L91.45,294.45 L92.43,294.24 L93.41,294.05 L94.39,293.85 L95.38,293.67 L96.36,293.49 L97.35,293.32 L98.34,293.16 L99.33,293.01 L100.32,292.86 L101.31,292.72 L102.30,292.59 L103.30,292.46 L104.29,292.34 L105.29,292.22 L106.28,292.11 L107.28,292.00 L108.27,291.89 L109.27,291.79 L110.27,291.70 L111.26,291.61 L112.26,291.53 L113.26,291.46 L114.26,291.40 L115.26,291.34 L116.26,291.28 L117.26,291.21 L118.26,291.14 L119.26,291.06 L120.25,290.96 L121.25,290.86 L122.25,290.74 L123.24,290.62 L124.23,290.49 L125.23,290.36 L126.22,290.21 L127.21,290.05 L128.19,289.89 L129.18,289.71 L130.17,289.54 L131.15,289.34 L132.12,289.12 L133.08,288.85 L134.02,288.53 L134.94,288.14 L135.83,287.68 L136.69,287.18 L137.52,286.63 L138.34,286.05 L139.15,285.46 L139.95,284.86 L140.75,284.25 L141.55,283.65 L142.35,283.05 L143.15,282.44 L143.94,281.84 L144.74,281.22 L145.52,280.60 L146.29,279.97 L147.05,279.31 L147.80,278.64 L148.52,277.95 L149.23,277.24 L149.91,276.51 L150.58,275.77 L151.23,275.01 L151.87,274.24 L152.49,273.45 L153.09,272.65 L153.67,271.84 L154.24,271.01 L154.79,270.18 L155.33,269.33 L155.86,268.48 L156.39,267.63 L156.91,266.77 L157.43,265.92 L157.96,265.07 L158.49,264.22 L159.04,263.38 L159.59,262.54 L160.14,261.71 L160.70,260.87 L161.24,260.04 L161.78,259.19 L162.31,258.34 L162.82,257.48 L163.32,256.61 L163.79,255.73 L164.26,254.84 L164.70,253.94 L165.13,253.04 L165.55,252.13 L165.96,251.21 L166.36,250.30 L166.76,249.38 L167.15,248.46 L167.54,247.53 L167.93,246.61 L168.31,245.68 L168.70,244.76 L169.08,243.83 L169.47,242.91 L169.86,241.99 L170.25,241.07 L170.64,240.14 L171.04,239.22 L171.43,238.30 L171.83,237.39 L172.23,236.47 L172.63,235.55 L173.03,234.63 L173.42,233.71 L173.82,232.79 L174.22,231.87 L174.62,230.95 L175.02,230.03 L175.41,229.11 L175.81,228.19 L176.21,227.27 L176.61,226.36 L177.01,225.44 L177.41,224.52 L177.81,223.60 L178.21,222.68 L178.61,221.76 L179.01,220.85 L179.41,219.93 L179.81,219.01 L180.21,218.09 L180.62,217.17 L181.02,216.26 L181.42,215.34 L181.82,214.42 L182.22,213.50 L182.62,212.58 L183.02,211.67 L183.42,210.75 L183.82,209.83 L184.23,208.91 L184.63,208.00 L185.03,207.08 L185.44,206.16 L185.84,205.25 L186.25,204.33 L186.65,203.41 L187.05,202.50 L187.45,201.58 L187.85,200.66 L188.25,199.74 L188.64,198.82 L189.02,197.89 L189.40,196.96 L189.77,196.03 L190.14,195.10 L190.49,194.16 L190.84,193.22 L191.17,192.28 L191.51,191.34 L191.84,190.39 L192.17,189.45 L192.50,188.50" fill="none" stroke="#555" stroke-width="3.0"/>
<path d="M19.50,306.00 L20.50,306.10 L21.49,306.21 L22.49,306.31 L23.48,306.42 L24.48,306.53 L25.48,306.64 L26.47,306.75 L27.47,306.86 L28.46,306.96 L29.46,307.07 L30.46,307.17 L31.45,307.27 L32.45,307.37 L33.45,307.46 L34.45,307.55 L35.44,307.63 L36.44,307.71 L37.44,307.79 L38.44,307.85 L39.44,307.90 L40.44,307.94 L41.44,307.97 L42.44,307.98 L43.44,307.96 L44.44,307.93 L45.44,307.87 L46.44,307.80 L47.44,307.69 L48.43,307.57 L49.42,307.42 L50.41,307.24 L51.39,307.05 L52.37,306.85 L53.35,306.64 L54.33,306.42 L55.30,306.19 L56.28,305.96 L57.25,305.71 L58.21,305.45 L59.18,305.18 L60.14,304.90 L61.10,304.60 L62.05,304.30 L63.00,303.99 L63.95,303.67 L64.90,303.35 L65.85,303.03 L66.80,302.70 L67.74,302.37 L68.68,302.03 L69.63,301.69 L70.56,301.34 L71.50,300.97 L72.43,300.60 L73.36,300.23 L74.28,299.84 L75.21,299.46 L76.13,299.08 L77.06,298.70 L77.99,298.33 L78.93,297.97 L79.86,297.62 L80.81,297.28 L81.76,296.97 L82.71,296.66 L83.67,296.37 L84.63,296.10 L85.60,295.83 L86.57,295.58 L87.54,295.34 L88.51,295.10 L89.49,294.88 L90.47,294.66 L91.45,294.45 L92.43,294.24 L93.41,294.05 L94.39,293.85 L95.38,293.67 L96.36,293.49 L97.35,293.32 L98.34,293.16 L99.33,293.01 L100.32,292.86 L101.31,292.72 L102.30,292.59 L103.30,292.46 L104.29,292.34 L105.29,292.22 L106.28,292.11 L107.28,292.00 L108.27,291.89 L109.27,291.79 L110.27,291.70 L111.26,291.61 L112.26,291.53 L113.26,291.46 L114.26,291.40 L115.26,291.34 L116.26,291.28 L117.26,291.21 L118.26,291.14 L119.26,291.06 L120.25,290.96 L121.25,290.86 L122.25,290.74 L123.24,290.62 L124.23,290.49 L125.23,290.36 L126.22,290.21 L127.21,290.05 L128.19,289.89 L129.18,289.71 L130.17,289.54 L131.15,289.34 L132.12,289.12 L133.08,288.85 L134.02,288.53 L134.94,288.14 L135.83,287.68 L136.69,287.18 L137.52,286.63 L138.34,286.05 L139.15,285.46 L139.95,284.86 L140.75,284.25 L141.55,283.65 L142.35,283.05 L143.15,282.44 L143.94,281.84 L144.74,281.22 L145.52,280.60 L146.29,279.97 L147.05,279.31 L147.80,278.64 L148.52,277.95 L149.23,277.24 L149.91,276.51 L150.58,275.77 L151.23,275.01 L151.87,274.24 L152.49,273.45 L153.09,272.65 L153.67,271.84 L154.24,271.01 L154.79,270.18 L155.33,269.33 L155.86,268.48 L156.39,267.63 L156.91,266.77 L157.43,265.92 L157.96,265.07 L158.49,264.22 L159.04,263.38 L159.59,262.54 L160.14,261.71 L160.70,260.87 L161.24,260.04 L161.78,259.19 L162.31,258.34 L162.82,257.48 L163.32,256.61 L163.79,255.73 L164.26,254.84 L164.70,253.94 L165.13,253.04 L165.55,252.13 L165.96,251.21 L166.36,250.30 L166.76,249.38 L167.15,248.46 L167.54,247.53 L167.93,246.61 L168.31,245.68 L168.70,244.76 L169.08,243.83 L169.47,242.91 L169.86,241.99 L170.25,241.07 L170.64,240.14 L171.04,239.22 L171.43,238.30 L171.83,237.39 L172.23,236.47 L172.63,235.55 L173.03,234.63 L173.42,233.71 L173.82,232.79 L174.22,231.87 L174.62,230.95 L175.02,230.03 L175.41,229.11 L175.81,228.19 L176.21,227.27 L176.61,226.36 L177.01,225.44 L177.41,224.52 L177.81,223.60 L178.21,222.68 L178.61,221.76 L179.01,220.85 L179.41,219.93 L179.81,219.01 L180.21,218.09 L180.62,217.17 L181.02,216.26 L181.42,215.34 L181.82,214.42 L182.22,213.50 L182.62,212.58 L183.02,211.67 L183.42,210.75 L183.82,209.83 L184.23,208.91 L184.63,208.00 L185.03,207.08 L185.44,206.16 L185.84,205.25 L186.25,204.33 L186.65,203.41 L187.05,202.50 L187.45,201.58 L187.85,200.66 L188.25,199.74 L188.64,198.82 L189.02,197.89 L189.40,196.96 L189.77,196.03 L190.14,195.10 L190.49,194.16 L190.84,193.22 L191.17,192.28 L191.51,191.34 L191.84,190.39 L192.17,189.45 L192.50,188.50" fill="none" stroke="#c4c4c4" stroke-width="1.1"/>
<path d="M19.50,306.00 L20.50,306.10 L21.49,306.21 L22.49,306.31 L23.48,306.42 L24.48,306.53 L25.48,306.64 L26.47,306.75 L27.47,306.86 L28.46,306.96 L29.46,307.07 L30.46,307.17 L31.45,307.27 L32.45,307.37 L33.45,307.46 L34.45,307.55 L35.44,307.63 L36.44,307.71 L37.44,307.79 L38.44,307.85 L39.44,307.90 L40.44,307.94 L41.44,307.97 L42.44,307.98 L43.44,307.96 L44.44,307.93 L45.44,307.87 L46.44,307.80 L47.44,307.69 L48.43,307.57 L49.42,307.42 L50.41,307.24 L51.39,307.05 L52.37,306.85 L53.35,306.64 L54.33,306.42 L55.30,306.19 L56.28,305.96 L57.25,305.71 L58.21,305.45 L59.18,305.18 L60.14,304.90 L61.10,304.60 L62.05,304.30 L63.00,303.99 L63.95,303.67 L64.90,303.35 L65.85,303.03 L66.80,302.70 L67.74,302.37 L68.68,302.03 L69.63,301.69 L70.56,301.34 L71.50,300.97 L72.43,300.60 L73.36,300.23 L74.28,299.84 L75.21,299.46 L76.13,299.08 L77.06,298.70 L77.99,298.33 L78.93,297.97 L79.86,297.62 L80.81,297.28 L81.76,296.97 L82.71,296.66 L83.67,296.37 L84.63,296.10 L85.60,295.83 L86.57,295.58 L87.54,295.34 L88.51,295.10 L89.49,294.88 L90.47,294.66 L91.45,294.45 L92.43,294.24 L93.41,294.05 L94.39,293.85 L95.38,293.67 L96.36,293.49 L97.35,293.32 L98.34,293.16 L99.33,293.01 L100.32,292.86 L101.31,292.72 L102.30,292.59 L103.30,292.46 L104.29,292.34 L105.29,292.22 L106.28,292.11 L107.28,292.00 L108.27,291.89 L109.27,291.79 L110.27,291.70 L111.26,291.61 L112.26,291.53 L113.26,291.46 L114.26,291.40 L115.26,291.34 L116.26,291.28 L117.26,291.21 L118.26,291.14 L119.26,291.06 L120.25,290.96 L121.25,290.86 L122.25,290.74 L123.24,290.62 L124.23,290.49 L125.23,290.36 L126.22,290.21 L127.21,290.05 L128.19,289.89 L129.18,289.71 L130.17,289.54 L131.15,289.34 L132.12,289.12 L133.08,288.85 L134.02,288.53 L134.94,288.14 L135.83,287.68 L136.69,287.18 L137.52,286.63 L138.34,286.05 L139.15,285.46 L139.95,284.86 L140.75,284.25 L141.55,283.65 L142.35,283.05 L143.15,282.44 L143.94,281.84 L144.74,281.22 L145.52,280.60 L146.29,279.97 L147.05,279.31 L147.80,278.64 L148.52,277.95 L149.23,277.24 L149.91,276.51" fill="none" stroke="#333" stroke-width="3.70"/>
<path d="M19.50,306.00 L20.50,306.10 L21.49,306.21 L22.49,306.31 L23.48,306.42 L24.48,306.53 L25.48,306.64 L26.47,306.75 L27.47,306.86 L28.46,306.96 L29.46,307.07 L30.46,307.17 L31.45,307.27 L32.45,307.37 L33.45,307.46 L34.45,307.55 L35.44,307.63 L36.44,307.71 L37.44,307.79 L38.44,307.85 L39.44,307.90 L40.44,307.94 L41.44,307.97 L42.44,307.98 L43.44,307.96 L44.44,307.93 L45.44,307.87 L46.44,307.80 L47.44,307.69 L48.43,307.57 L49.42,307.42 L50.41,307.24 L51.39,307.05 L52.37,306.85 L53.35,306.64 L54.33,306.42 L55.30,306.19 L56.28,305.96 L57.25,305.71 L58.21,305.45 L59.18,305.18 L60.14,304.90 L61.10,304.60 L62.05,304.30 L63.00,303.99 L63.95,303.67 L64.90,303.35 L65.85,303.03 L66.80,302.70 L67.74,302.37 L68.68,302.03 L69.63,301.69 L70.56,301.34 L71.50,300.97 L72.43,300.60 L73.36,300.23 L74.28,299.84 L75.21,299.46 L76.13,299.08 L77.06,298.70 L77.99,298.33 L78.93,297.97 L79.86,297.62 L80.81,297.28 L81.76,296.97 L82.71,296.66 L83.67,296.37 L84.63,296.10 L85.60,295.83 L86.57,295.58 L87.54,295.34 L88.51,295.10 L89.49,294.88 L90.47,294.66 L91.45,294.45 L92.43,294.24 L93.41,294.05 L94.39,293.85 L95.38,293.67 L96.36,293.49 L97.35,293.32 L98.34,293.16 L99.33,293.01 L100.32,292.86 L101.31,292.72 L102.30,292.59 L103.30,292.46 L104.29,292.34 L105.29,292.22 L106.28,292.11 L107.28,292.00 L108.27,291.89 L109.27,291.79 L110.27,291.70 L111.26,291.61 L112.26,291.53 L113.26,291.46 L114.26,291.40 L115.26,291.34 L116.26,291.28 L117.26,291.21 L118.26,291.14 L119.26,291.06 L120.25,290.96 L121.25,290.86 L122.25,290.74 L123.24,290.62 L124.23,290.49 L125.23,290.36 L126.22,290.21 L127.21,290.05 L128.19,289.89 L129.18,289.71 L130.17,289.54 L131.15,289.34 L132.12,289.12 L133.08,288.85 L134.02,288.53 L134.94,288.14 L135.83,287.68 L136.69,287.18 L137.52,286.63 L138.34,286.05 L139.15,285.46 L139.95,284.86 L140.75,284.25 L141.55,283.65 L142.35,283.05 L143.15,282.44 L143.94,281.84 L144.74,281.22 L145.52,280.60 L146.29,279.97 L147.05,279.31 L147.80,278.64 L148.52,277.95 L149.23,277.24 L149.91,276.51" fill="none" stroke="#bdbdbd" stroke-width="1.50" stroke-dasharray="1.5 1.4"/>
<path d="M19.50,301.60 L20.50,301.70 L21.50,301.79 L22.50,301.89 L23.50,301.98 L24.50,302.08 L25.50,302.16 L26.50,302.25 L27.50,302.33 L28.50,302.41 L29.50,302.50 L30.50,302.58 L31.50,302.68 L32.50,302.77 L33.50,302.86 L34.50,302.95 L35.50,303.03 L36.50,303.09 L37.50,303.15 L38.51,303.19 L39.51,303.21 L40.51,303.21 L41.52,303.19 L42.52,303.14 L43.52,303.08 L44.52,303.00 L45.52,302.90 L46.52,302.79 L47.51,302.66 L48.51,302.52 L49.50,302.35 L50.48,302.17 L51.47,301.97 L52.45,301.74 L53.42,301.50 L54.39,301.24 L55.35,300.95 L56.30,300.64 L57.25,300.31 L58.19,299.96 L59.12,299.58 L60.04,299.19 L60.96,298.78 L61.88,298.37 L62.78,297.94 L63.69,297.51 L64.59,297.07 L65.49,296.63 L66.39,296.18 L67.29,295.74 L68.20,295.29 L69.10,294.85 L69.99,294.40 L70.89,293.95 L71.78,293.48 L72.67,293.02 L73.56,292.55 L74.44,292.07 L75.32,291.59 L76.21,291.12 L77.09,290.64 L77.98,290.17 L78.87,289.70 L79.76,289.24 L80.65,288.78 L81.55,288.33 L82.45,287.89 L83.35,287.45 L84.26,287.01 L85.16,286.58 L86.07,286.15 L86.98,285.73 L87.89,285.30 L88.80,284.89 L89.72,284.48 L90.64,284.07 L91.56,283.67 L92.49,283.28 L93.41,282.90 L94.35,282.53 L95.29,282.17 L96.23,281.83 L97.17,281.50 L98.13,281.18 L99.08,280.87 L100.04,280.58 L101.01,280.29 L101.97,280.02 L102.94,279.74 L103.90,279.48 L104.87,279.21 L105.84,278.94 L106.81,278.67 L107.77,278.39 L108.73,278.10 L109.69,277.81 L110.65,277.51 L111.61,277.21 L112.57,276.91 L113.52,276.60 L114.48,276.30 L115.44,275.99 L116.39,275.68 L117.34,275.37 L118.30,275.06 L119.25,274.75 L120.21,274.44 L121.17,274.13 L122.12,273.83 L123.08,273.53 L124.04,273.23 L125.00,272.93 L125.95,272.61 L126.90,272.28 L127.83,271.92 L128.76,271.53 L129.67,271.12 L130.57,270.67 L131.45,270.19 L132.32,269.69 L133.18,269.17 L134.02,268.63 L134.86,268.08 L135.69,267.52 L136.52,266.95 L137.34,266.37 L138.15,265.77 L138.95,265.17 L139.74,264.54 L140.51,263.91 L141.27,263.25 L142.02,262.58 L142.75,261.90 L143.47,261.20 L144.18,260.49 L144.88,259.77 L145.57,259.04 L146.26,258.31 L146.94,257.57 L147.62,256.83 L148.30,256.09 L148.98,255.35 L149.65,254.61 L150.32,253.86 L150.98,253.10 L151.61,252.33 L152.22,251.53 L152.79,250.70 L153.32,249.86 L153.82,248.99 L154.29,248.10 L154.73,247.20 L155.15,246.29 L155.56,245.37 L155.96,244.45 L156.36,243.53 L156.76,242.61 L157.18,241.70 L157.60,240.79 L158.03,239.88 L158.47,238.98 L158.92,238.08 L159.36,237.18 L159.81,236.28 L160.27,235.38 L160.72,234.49 L161.18,233.59 L161.63,232.70 L162.09,231.81 L162.55,230.91 L163.01,230.02 L163.47,229.13 L163.94,228.24 L164.40,227.35 L164.87,226.46 L165.34,225.57 L165.81,224.68 L166.28,223.80 L166.75,222.91 L167.22,222.03 L167.70,221.14 L168.17,220.26 L168.65,219.37 L169.13,218.49 L169.61,217.61 L170.10,216.73 L170.58,215.85 L171.07,214.98 L171.56,214.10 L172.04,213.22 L172.53,212.34 L173.01,211.46 L173.50,210.58 L173.98,209.70 L174.46,208.82 L174.96,207.95 L175.47,207.08 L175.98,206.22 L176.51,205.37 L177.04,204.51 L177.57,203.66 L178.11,202.82 L178.66,201.97 L179.21,201.13 L179.76,200.30 L180.33,199.47 L180.91,198.65 L181.49,197.83 L182.09,197.02 L182.69,196.22 L183.30,195.43 L183.93,194.64 L184.56,193.86 L185.20,193.08 L185.84,192.31 L186.49,191.55 L187.15,190.79 L187.81,190.04 L188.48,189.28 L189.15,188.53 L189.82,187.79 L190.49,187.04 L191.16,186.29 L191.83,185.55 L192.50,184.80" fill="none" stroke="#ff0000" stroke-width="3.30" stroke-linejoin="round"/>
<path d="M119.10,313.00 L177.30,203.00" stroke="#00e600" stroke-width="1.3"/>
<path d="M138.80,313.00 L185.50,206.00" stroke="#00e600" stroke-width="1.3"/>
<path d="M104.8,186.2 H118.5" stroke="#999" stroke-width="1"/><circle cx="112.2" cy="186.2" r="1.5" fill="#fff" stroke="#555" stroke-width="0.9"/>
<path d="M104.8,199.9 H118.5" stroke="#ff7a7a" stroke-width="0.9"/><circle cx="112.2" cy="199.9" r="1.8" fill="#f00"/>
<text x="122" y="189.2" font-size="9.2" font-weight="bold" textLength="41.5" lengthAdjust="spacingAndGlyphs">BFO@SiO</text>
<text x="164.6" y="191.1" font-size="8.6" font-weight="bold" textLength="5.8" lengthAdjust="spacingAndGlyphs">2</text>
<text x="122" y="202.6" font-size="9.2" font-weight="bold" textLength="18.4" lengthAdjust="spacingAndGlyphs">BFO</text>
<text x="26.00" y="201.70" font-size="14.20" font-weight="normal" text-anchor="start" textLength="16.40" lengthAdjust="spacingAndGlyphs">(c)</text>
<text x="38.70" y="326.00" font-size="10.20" font-weight="normal" text-anchor="middle" textLength="15.40" lengthAdjust="spacingAndGlyphs" class="m">1.6</text>
<text x="77.10" y="326.00" font-size="10.20" font-weight="normal" text-anchor="middle" textLength="15.40" lengthAdjust="spacingAndGlyphs" class="m">1.8</text>
<text x="115.60" y="326.00" font-size="10.20" font-weight="normal" text-anchor="middle" textLength="15.40" lengthAdjust="spacingAndGlyphs" class="m">2.0</text>
<text x="154.00" y="326.00" font-size="10.20" font-weight="normal" text-anchor="middle" textLength="15.40" lengthAdjust="spacingAndGlyphs" class="m">2.2</text>
<text x="192.50" y="326.00" font-size="10.20" font-weight="normal" text-anchor="middle" textLength="15.40" lengthAdjust="spacingAndGlyphs" class="m">2.4</text>
<text class="m" x="84.5" y="337.2" font-size="11.6" textLength="42" lengthAdjust="spacingAndGlyphs"><tspan font-weight="bold">h&#957;</tspan> (eV)</text>
<text x="0" y="0" transform="translate(12.0,278.2) rotate(-90)" font-size="8.8" textLength="65.3" lengthAdjust="spacingAndGlyphs">(F(R)h&#957;)<tspan font-size="5.5" dy="-3.5">2</tspan><tspan dy="3.5">(a.u.)</tspan></text>
<path d="M224.20,177.10 H400.20" fill="none" stroke="#222" stroke-width="1.4"/>
<path d="M224.20,177.10 V312.00 H400.20 V177.10" fill="none" stroke="#000" stroke-width="1.4" stroke-linejoin="round"/>
<path d="M224.20,312.00 V314.60 M400.20,312.00 V314.60" stroke="#000" stroke-width="1.1"/>
<path d="M243.60,312.00 V314.60" stroke="#000" stroke-width="1.1"/>
<path d="M282.70,312.00 V314.60" stroke="#000" stroke-width="1.1"/>
<path d="M321.90,312.00 V314.60" stroke="#000" stroke-width="1.1"/>
<path d="M360.80,312.00 V314.60" stroke="#000" stroke-width="1.1"/>
<path d="M224.20,298.90 L225.12,299.29 L226.05,299.69 L226.97,300.08 L227.90,300.47 L228.82,300.86 L229.75,301.24 L230.68,301.62 L231.62,301.98 L232.56,302.34 L233.50,302.68 L234.44,303.02 L235.39,303.36 L236.34,303.70 L237.28,304.03 L238.23,304.36 L239.18,304.67 L240.14,304.98 L241.10,305.27 L242.07,305.53 L243.04,305.76 L244.03,305.94 L245.02,306.07 L246.01,306.12 L247.01,306.10 L248.00,305.98 L248.97,305.78 L249.92,305.49 L250.86,305.14 L251.78,304.75 L252.69,304.33 L253.59,303.88 L254.49,303.43 L255.37,302.95 L256.25,302.46 L257.11,301.95 L257.96,301.42 L258.81,300.88 L259.64,300.32 L260.47,299.75 L261.28,299.16 L262.08,298.56 L262.87,297.94 L263.65,297.31 L264.41,296.65 L265.16,295.99 L265.90,295.30 L266.62,294.61 L267.34,293.91 L268.05,293.20 L268.76,292.49 L269.47,291.78 L270.19,291.08 L270.91,290.38 L271.64,289.68 L272.37,289.00 L273.11,288.33 L273.86,287.66 L274.62,287.00 L275.38,286.34 L276.14,285.68 L276.91,285.03 L277.68,284.39 L278.45,283.75 L279.23,283.12 L280.02,282.50 L280.82,281.89 L281.63,281.29 L282.44,280.71 L283.26,280.13 L284.10,279.57 L284.94,279.03 L285.79,278.49 L286.64,277.97 L287.51,277.46 L288.38,276.97 L289.26,276.48 L290.15,276.01 L291.04,275.55 L291.94,275.09 L292.84,274.65 L293.74,274.21 L294.65,273.79 L295.56,273.37 L296.48,272.96 L297.40,272.56 L298.32,272.17 L299.25,271.78 L300.18,271.40 L301.11,271.03 L302.05,270.66 L302.98,270.30 L303.92,269.95 L304.87,269.60 L305.81,269.26 L306.76,268.93 L307.71,268.61 L308.67,268.31 L309.63,268.02 L310.59,267.75 L311.57,267.50 L312.54,267.27 L313.53,267.07 L314.51,266.90 L315.51,266.76 L316.51,266.65 L317.51,266.57 L318.51,266.50 L319.51,266.44 L320.51,266.38 L321.51,266.31 L322.51,266.23 L323.51,266.15 L324.51,266.06 L325.51,265.98 L326.51,265.89 L327.51,265.79 L328.51,265.67 L329.50,265.53 L330.49,265.36 L331.47,265.16 L332.45,264.92 L333.41,264.65 L334.37,264.35 L335.32,264.02 L336.26,263.68 L337.20,263.33 L338.14,262.96 L339.07,262.58 L340.00,262.20 L340.92,261.81 L341.84,261.41 L342.76,261.01 L343.68,260.61 L344.60,260.19 L345.50,259.76 L346.40,259.32 L347.29,258.85 L348.15,258.34 L348.98,257.78 L349.78,257.18 L350.53,256.52 L351.23,255.81 L351.89,255.06 L352.52,254.28 L353.13,253.48 L353.73,252.68 L354.33,251.87 L354.92,251.06 L355.50,250.24 L356.07,249.42 L356.64,248.59 L357.20,247.76 L357.75,246.92 L358.30,246.07 L358.83,245.23 L359.36,244.37 L359.88,243.51 L360.39,242.65 L360.89,241.78 L361.39,240.90 L361.88,240.03 L362.37,239.15 L362.86,238.28 L363.35,237.40 L363.84,236.53 L364.33,235.65 L364.83,234.78 L365.33,233.90 L365.82,233.03 L366.32,232.16 L366.82,231.29 L367.32,230.42 L367.81,229.54 L368.31,228.67 L368.81,227.80 L369.31,226.93 L369.81,226.06 L370.30,225.18 L370.80,224.31 L371.30,223.44 L371.80,222.57 L372.30,221.70 L372.79,220.82 L373.29,219.95 L373.79,219.08 L374.29,218.21 L374.79,217.34 L375.29,216.47 L375.79,215.60 L376.29,214.73 L376.79,213.86 L377.29,212.99 L377.79,212.12 L378.30,211.25 L378.80,210.38 L379.31,209.51 L379.82,208.65 L380.34,207.79 L380.86,206.93 L381.39,206.08 L381.93,205.23 L382.47,204.38 L383.01,203.54 L383.55,202.69 L384.09,201.84 L384.62,200.99 L385.15,200.14 L385.68,199.29 L386.21,198.44 L386.75,197.59 L387.29,196.74 L387.83,195.90 L388.38,195.06 L388.94,194.23 L389.52,193.40 L390.12,192.60 L390.75,191.82 L391.41,191.06 L392.09,190.33 L392.81,189.63 L393.54,188.94 L394.29,188.28 L395.06,187.64 L395.85,187.02 L396.66,186.43 L397.48,185.85 L398.32,185.29 L399.16,184.75 L400.00,184.20" fill="none" stroke="#555" stroke-width="3.0"/>
<path d="M224.20,298.90 L225.12,299.29 L226.05,299.69 L226.97,300.08 L227.90,300.47 L228.82,300.86 L229.75,301.24 L230.68,301.62 L231.62,301.98 L232.56,302.34 L233.50,302.68 L234.44,303.02 L235.39,303.36 L236.34,303.70 L237.28,304.03 L238.23,304.36 L239.18,304.67 L240.14,304.98 L241.10,305.27 L242.07,305.53 L243.04,305.76 L244.03,305.94 L245.02,306.07 L246.01,306.12 L247.01,306.10 L248.00,305.98 L248.97,305.78 L249.92,305.49 L250.86,305.14 L251.78,304.75 L252.69,304.33 L253.59,303.88 L254.49,303.43 L255.37,302.95 L256.25,302.46 L257.11,301.95 L257.96,301.42 L258.81,300.88 L259.64,300.32 L260.47,299.75 L261.28,299.16 L262.08,298.56 L262.87,297.94 L263.65,297.31 L264.41,296.65 L265.16,295.99 L265.90,295.30 L266.62,294.61 L267.34,293.91 L268.05,293.20 L268.76,292.49 L269.47,291.78 L270.19,291.08 L270.91,290.38 L271.64,289.68 L272.37,289.00 L273.11,288.33 L273.86,287.66 L274.62,287.00 L275.38,286.34 L276.14,285.68 L276.91,285.03 L277.68,284.39 L278.45,283.75 L279.23,283.12 L280.02,282.50 L280.82,281.89 L281.63,281.29 L282.44,280.71 L283.26,280.13 L284.10,279.57 L284.94,279.03 L285.79,278.49 L286.64,277.97 L287.51,277.46 L288.38,276.97 L289.26,276.48 L290.15,276.01 L291.04,275.55 L291.94,275.09 L292.84,274.65 L293.74,274.21 L294.65,273.79 L295.56,273.37 L296.48,272.96 L297.40,272.56 L298.32,272.17 L299.25,271.78 L300.18,271.40 L301.11,271.03 L302.05,270.66 L302.98,270.30 L303.92,269.95 L304.87,269.60 L305.81,269.26 L306.76,268.93 L307.71,268.61 L308.67,268.31 L309.63,268.02 L310.59,267.75 L311.57,267.50 L312.54,267.27 L313.53,267.07 L314.51,266.90 L315.51,266.76 L316.51,266.65 L317.51,266.57 L318.51,266.50 L319.51,266.44 L320.51,266.38 L321.51,266.31 L322.51,266.23 L323.51,266.15 L324.51,266.06 L325.51,265.98 L326.51,265.89 L327.51,265.79 L328.51,265.67 L329.50,265.53 L330.49,265.36 L331.47,265.16 L332.45,264.92 L333.41,264.65 L334.37,264.35 L335.32,264.02 L336.26,263.68 L337.20,263.33 L338.14,262.96 L339.07,262.58 L340.00,262.20 L340.92,261.81 L341.84,261.41 L342.76,261.01 L343.68,260.61 L344.60,260.19 L345.50,259.76 L346.40,259.32 L347.29,258.85 L348.15,258.34 L348.98,257.78 L349.78,257.18 L350.53,256.52 L351.23,255.81 L351.89,255.06 L352.52,254.28 L353.13,253.48 L353.73,252.68 L354.33,251.87 L354.92,251.06 L355.50,250.24 L356.07,249.42 L356.64,248.59 L357.20,247.76 L357.75,246.92 L358.30,246.07 L358.83,245.23 L359.36,244.37 L359.88,243.51 L360.39,242.65 L360.89,241.78 L361.39,240.90 L361.88,240.03 L362.37,239.15 L362.86,238.28 L363.35,237.40 L363.84,236.53 L364.33,235.65 L364.83,234.78 L365.33,233.90 L365.82,233.03 L366.32,232.16 L366.82,231.29 L367.32,230.42 L367.81,229.54 L368.31,228.67 L368.81,227.80 L369.31,226.93 L369.81,226.06 L370.30,225.18 L370.80,224.31 L371.30,223.44 L371.80,222.57 L372.30,221.70 L372.79,220.82 L373.29,219.95 L373.79,219.08 L374.29,218.21 L374.79,217.34 L375.29,216.47 L375.79,215.60 L376.29,214.73 L376.79,213.86 L377.29,212.99 L377.79,212.12 L378.30,211.25 L378.80,210.38 L379.31,209.51 L379.82,208.65 L380.34,207.79 L380.86,206.93 L381.39,206.08 L381.93,205.23 L382.47,204.38 L383.01,203.54 L383.55,202.69 L384.09,201.84 L384.62,200.99 L385.15,200.14 L385.68,199.29 L386.21,198.44 L386.75,197.59 L387.29,196.74 L387.83,195.90 L388.38,195.06 L388.94,194.23 L389.52,193.40 L390.12,192.60 L390.75,191.82 L391.41,191.06 L392.09,190.33 L392.81,189.63 L393.54,188.94 L394.29,188.28 L395.06,187.64 L395.85,187.02 L396.66,186.43 L397.48,185.85 L398.32,185.29 L399.16,184.75 L400.00,184.20" fill="none" stroke="#c4c4c4" stroke-width="1.1"/>
<path d="M224.20,298.90 L225.12,299.29 L226.05,299.69 L226.97,300.08 L227.90,300.47 L228.82,300.86 L229.75,301.24 L230.68,301.62 L231.62,301.98 L232.56,302.34 L233.50,302.68 L234.44,303.02 L235.39,303.36 L236.34,303.70 L237.28,304.03 L238.23,304.36 L239.18,304.67 L240.14,304.98 L241.10,305.27 L242.07,305.53 L243.04,305.76 L244.03,305.94 L245.02,306.07 L246.01,306.12 L247.01,306.10 L248.00,305.98 L248.97,305.78 L249.92,305.49 L250.86,305.14 L251.78,304.75 L252.69,304.33 L253.59,303.88 L254.49,303.43 L255.37,302.95 L256.25,302.46 L257.11,301.95 L257.96,301.42 L258.81,300.88 L259.64,300.32 L260.47,299.75 L261.28,299.16 L262.08,298.56 L262.87,297.94 L263.65,297.31 L264.41,296.65 L265.16,295.99 L265.90,295.30 L266.62,294.61 L267.34,293.91 L268.05,293.20 L268.76,292.49 L269.47,291.78 L270.19,291.08 L270.91,290.38 L271.64,289.68 L272.37,289.00 L273.11,288.33 L273.86,287.66 L274.62,287.00 L275.38,286.34 L276.14,285.68 L276.91,285.03 L277.68,284.39 L278.45,283.75 L279.23,283.12 L280.02,282.50 L280.82,281.89 L281.63,281.29 L282.44,280.71 L283.26,280.13 L284.10,279.57 L284.94,279.03 L285.79,278.49 L286.64,277.97 L287.51,277.46 L288.38,276.97 L289.26,276.48 L290.15,276.01 L291.04,275.55 L291.94,275.09 L292.84,274.65 L293.74,274.21 L294.65,273.79 L295.56,273.37 L296.48,272.96 L297.40,272.56 L298.32,272.17 L299.25,271.78 L300.18,271.40 L301.11,271.03 L302.05,270.66 L302.98,270.30 L303.92,269.95 L304.87,269.60 L305.81,269.26 L306.76,268.93 L307.71,268.61 L308.67,268.31 L309.63,268.02 L310.59,267.75 L311.57,267.50 L312.54,267.27 L313.53,267.07 L314.51,266.90 L315.51,266.76 L316.51,266.65 L317.51,266.57 L318.51,266.50 L319.51,266.44 L320.51,266.38 L321.51,266.31 L322.51,266.23 L323.51,266.15 L324.51,266.06 L325.51,265.98 L326.51,265.89 L327.51,265.79 L328.51,265.67 L329.50,265.53 L330.49,265.36 L331.47,265.16 L332.45,264.92 L333.41,264.65 L334.37,264.35 L335.32,264.02 L336.26,263.68 L337.20,263.33 L338.14,262.96 L339.07,262.58 L340.00,262.20 L340.92,261.81 L341.84,261.41 L342.76,261.01 L343.68,260.61 L344.60,260.19 L345.50,259.76 L346.40,259.32" fill="none" stroke="#333" stroke-width="3.70"/>
<path d="M224.20,298.90 L225.12,299.29 L226.05,299.69 L226.97,300.08 L227.90,300.47 L228.82,300.86 L229.75,301.24 L230.68,301.62 L231.62,301.98 L232.56,302.34 L233.50,302.68 L234.44,303.02 L235.39,303.36 L236.34,303.70 L237.28,304.03 L238.23,304.36 L239.18,304.67 L240.14,304.98 L241.10,305.27 L242.07,305.53 L243.04,305.76 L244.03,305.94 L245.02,306.07 L246.01,306.12 L247.01,306.10 L248.00,305.98 L248.97,305.78 L249.92,305.49 L250.86,305.14 L251.78,304.75 L252.69,304.33 L253.59,303.88 L254.49,303.43 L255.37,302.95 L256.25,302.46 L257.11,301.95 L257.96,301.42 L258.81,300.88 L259.64,300.32 L260.47,299.75 L261.28,299.16 L262.08,298.56 L262.87,297.94 L263.65,297.31 L264.41,296.65 L265.16,295.99 L265.90,295.30 L266.62,294.61 L267.34,293.91 L268.05,293.20 L268.76,292.49 L269.47,291.78 L270.19,291.08 L270.91,290.38 L271.64,289.68 L272.37,289.00 L273.11,288.33 L273.86,287.66 L274.62,287.00 L275.38,286.34 L276.14,285.68 L276.91,285.03 L277.68,284.39 L278.45,283.75 L279.23,283.12 L280.02,282.50 L280.82,281.89 L281.63,281.29 L282.44,280.71 L283.26,280.13 L284.10,279.57 L284.94,279.03 L285.79,278.49 L286.64,277.97 L287.51,277.46 L288.38,276.97 L289.26,276.48 L290.15,276.01 L291.04,275.55 L291.94,275.09 L292.84,274.65 L293.74,274.21 L294.65,273.79 L295.56,273.37 L296.48,272.96 L297.40,272.56 L298.32,272.17 L299.25,271.78 L300.18,271.40 L301.11,271.03 L302.05,270.66 L302.98,270.30 L303.92,269.95 L304.87,269.60 L305.81,269.26 L306.76,268.93 L307.71,268.61 L308.67,268.31 L309.63,268.02 L310.59,267.75 L311.57,267.50 L312.54,267.27 L313.53,267.07 L314.51,266.90 L315.51,266.76 L316.51,266.65 L317.51,266.57 L318.51,266.50 L319.51,266.44 L320.51,266.38 L321.51,266.31 L322.51,266.23 L323.51,266.15 L324.51,266.06 L325.51,265.98 L326.51,265.89 L327.51,265.79 L328.51,265.67 L329.50,265.53 L330.49,265.36 L331.47,265.16 L332.45,264.92 L333.41,264.65 L334.37,264.35 L335.32,264.02 L336.26,263.68 L337.20,263.33 L338.14,262.96 L339.07,262.58 L340.00,262.20 L340.92,261.81 L341.84,261.41 L342.76,261.01 L343.68,260.61 L344.60,260.19 L345.50,259.76 L346.40,259.32" fill="none" stroke="#bdbdbd" stroke-width="1.50" stroke-dasharray="1.5 1.4"/>
<path d="M224.20,287.20 L225.18,287.39 L226.16,287.58 L227.15,287.76 L228.13,287.95 L229.11,288.14 L230.09,288.34 L231.07,288.53 L232.05,288.74 L233.03,288.95 L234.00,289.17 L234.97,289.41 L235.94,289.67 L236.90,289.94 L237.86,290.22 L238.82,290.49 L239.79,290.75 L240.76,290.99 L241.74,291.19 L242.72,291.34 L243.71,291.43 L244.71,291.46 L245.70,291.43 L246.69,291.33 L247.68,291.17 L248.65,290.96 L249.61,290.69 L250.56,290.37 L251.49,290.01 L252.40,289.61 L253.29,289.16 L254.17,288.69 L255.03,288.18 L255.87,287.64 L256.69,287.07 L257.50,286.49 L258.30,285.88 L259.08,285.26 L259.84,284.61 L260.58,283.94 L261.31,283.26 L262.02,282.55 L262.72,281.84 L263.42,281.12 L264.11,280.40 L264.80,279.67 L265.49,278.95 L266.19,278.23 L266.89,277.52 L267.59,276.81 L268.30,276.11 L269.01,275.40 L269.72,274.70 L270.43,273.99 L271.15,273.29 L271.86,272.60 L272.59,271.91 L273.32,271.23 L274.06,270.56 L274.81,269.90 L275.58,269.25 L276.35,268.62 L277.13,267.99 L277.92,267.38 L278.72,266.78 L279.52,266.19 L280.34,265.61 L281.16,265.04 L281.99,264.48 L282.83,263.93 L283.67,263.39 L284.52,262.86 L285.37,262.34 L286.23,261.82 L287.09,261.31 L287.95,260.81 L288.82,260.32 L289.70,259.83 L290.57,259.35 L291.45,258.87 L292.33,258.40 L293.21,257.93 L294.10,257.47 L294.99,257.01 L295.88,256.55 L296.77,256.10 L297.67,255.65 L298.56,255.21 L299.46,254.77 L300.36,254.34 L301.27,253.91 L302.17,253.48 L303.08,253.06 L303.99,252.65 L304.90,252.24 L305.82,251.85 L306.74,251.46 L307.67,251.08 L308.60,250.71 L309.53,250.35 L310.47,249.99 L311.40,249.64 L312.34,249.30 L313.28,248.96 L314.22,248.62 L315.17,248.29 L316.11,247.96 L317.06,247.64 L318.01,247.32 L318.96,247.01 L319.91,246.70 L320.86,246.39 L321.81,246.08 L322.76,245.78 L323.72,245.49 L324.68,245.20 L325.64,244.91 L326.60,244.64 L327.56,244.36 L328.52,244.07 L329.47,243.77 L330.42,243.46 L331.36,243.13 L332.30,242.78 L333.23,242.40 L334.15,242.02 L335.06,241.62 L335.98,241.21 L336.88,240.78 L337.78,240.35 L338.67,239.90 L339.56,239.43 L340.43,238.95 L341.30,238.45 L342.15,237.93 L342.99,237.39 L343.82,236.82 L344.63,236.24 L345.43,235.64 L346.21,235.01 L346.98,234.38 L347.74,233.73 L348.50,233.08 L349.25,232.41 L349.99,231.74 L350.72,231.06 L351.45,230.38 L352.17,229.69 L352.89,228.99 L353.60,228.29 L354.30,227.57 L355.00,226.86 L355.69,226.13 L356.37,225.40 L357.05,224.66 L357.71,223.92 L358.37,223.17 L359.02,222.41 L359.67,221.64 L360.31,220.88 L360.95,220.11 L361.58,219.33 L362.21,218.56 L362.84,217.78 L363.47,217.00 L364.10,216.22 L364.73,215.45 L365.36,214.67 L365.99,213.89 L366.61,213.11 L367.24,212.33 L367.86,211.55 L368.48,210.76 L369.10,209.98 L369.71,209.18 L370.32,208.39 L370.92,207.59 L371.51,206.78 L372.09,205.97 L372.67,205.16 L373.24,204.34 L373.81,203.52 L374.39,202.70 L374.98,201.89 L375.58,201.09 L376.19,200.30 L376.82,199.52 L377.47,198.76 L378.12,198.00 L378.78,197.26 L379.45,196.51 L380.13,195.77 L380.80,195.04 L381.48,194.30 L382.16,193.56 L382.83,192.83 L383.51,192.10 L384.21,191.37 L384.91,190.67 L385.64,189.98 L386.39,189.32 L387.17,188.69 L387.96,188.09 L388.78,187.51 L389.60,186.94 L390.43,186.38 L391.26,185.83 L392.10,185.28 L392.94,184.74 L393.79,184.21 L394.65,183.71 L395.52,183.22 L396.40,182.75 L397.29,182.30 L398.19,181.86 L399.10,181.43 L400.00,181.00" fill="none" stroke="#ff0000" stroke-width="3.30" stroke-linejoin="round"/>
<path d="M284.30,312.00 L381.50,195.30" stroke="#00e600" stroke-width="1.3"/>
<path d="M320.50,312.00 L386.50,196.90" stroke="#00e600" stroke-width="1.3"/>
<path d="M301.3,186.7 H315.5" stroke="#999" stroke-width="1"/><circle cx="308.3" cy="186.7" r="1.5" fill="#fff" stroke="#555" stroke-width="0.9"/>
<path d="M301.3,200.8 H315.5" stroke="#ff7a7a" stroke-width="0.9"/><circle cx="308.3" cy="200.8" r="1.8" fill="#f00"/>
<text class="h" x="318.9" y="189.7" font-size="10.2" textLength="41.7" lengthAdjust="spacingAndGlyphs">BFO@SiO</text>
<text class="h" x="361.5" y="191.6" font-size="8.8" textLength="5.5" lengthAdjust="spacingAndGlyphs">2</text>
<text class="h" x="318.9" y="203.8" font-size="10.2" textLength="18.1" lengthAdjust="spacingAndGlyphs">BFO</text>
<text x="235.60" y="204.60" font-size="15.20" font-weight="normal" text-anchor="start" textLength="18.00" lengthAdjust="spacingAndGlyphs">(d)</text>
<text x="243.60" y="326.00" font-size="10.20" font-weight="normal" text-anchor="middle" textLength="15.40" lengthAdjust="spacingAndGlyphs" class="m">1.6</text>
<text x="282.70" y="326.00" font-size="10.20" font-weight="normal" text-anchor="middle" textLength="15.40" lengthAdjust="spacingAndGlyphs" class="m">1.8</text>
<text x="321.90" y="326.00" font-size="10.20" font-weight="normal" text-anchor="middle" textLength="15.40" lengthAdjust="spacingAndGlyphs" class="m">2.0</text>
<text x="360.80" y="326.00" font-size="10.20" font-weight="normal" text-anchor="middle" textLength="15.40" lengthAdjust="spacingAndGlyphs" class="m">2.2</text>
<text x="400.00" y="326.00" font-size="10.20" font-weight="normal" text-anchor="middle" textLength="15.40" lengthAdjust="spacingAndGlyphs" class="m">2.4</text>
<text class="m" x="295.7" y="338.6" font-size="10.5" textLength="33.3" lengthAdjust="spacingAndGlyphs">h&#957;(eV)</text>
<text x="0" y="0" transform="translate(215.6,280) rotate(-90)" font-size="9.8" textLength="73.4" lengthAdjust="spacingAndGlyphs">(F(R)h&#957;)<tspan font-size="6" dy="-4.2">1/2</tspan><tspan dy="4.2">(a.u.)</tspan></text>
</svg>
</body></html>
